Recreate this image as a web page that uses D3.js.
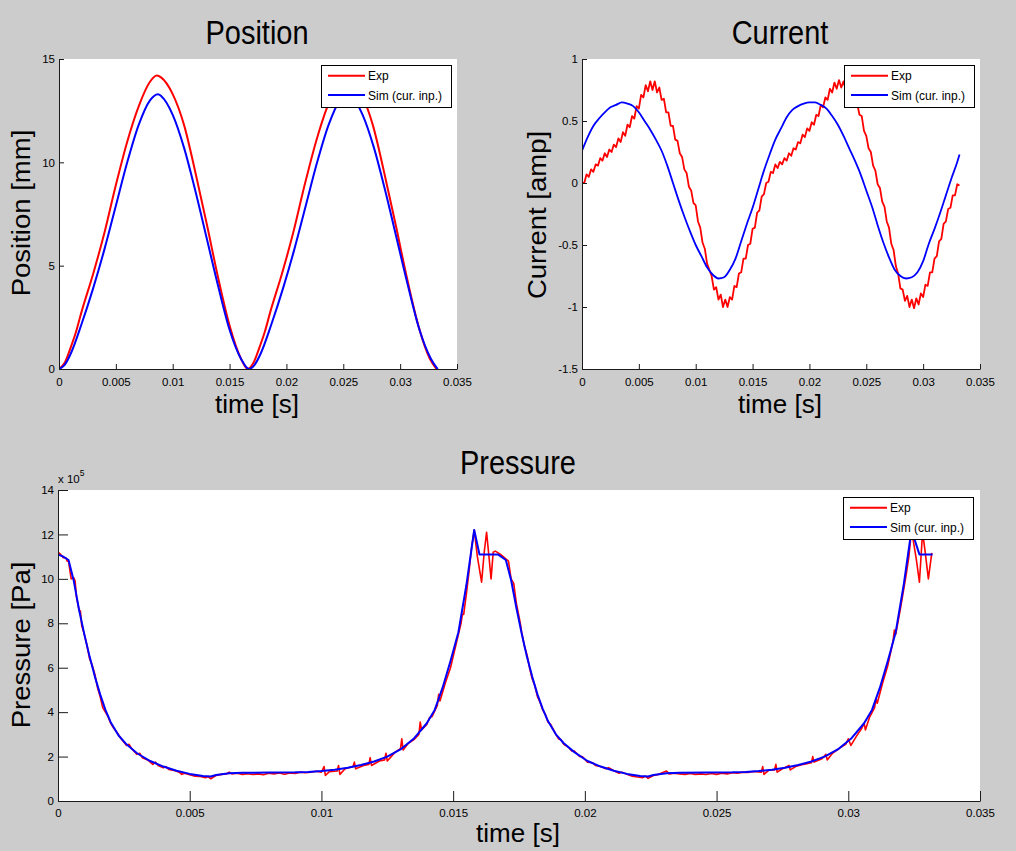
<!DOCTYPE html>
<html><head><meta charset="utf-8">
<script src="https://cdn.jsdelivr.net/npm/d3@7"></script>
<style>body{margin:0;background:#cccccc;} text{font-family:"Liberation Sans",Arial,sans-serif;fill:#000;}</style>
</head><body>
<script>
// ---------------- DATA ----------------
const timeTicks = [0,0.005,0.01,0.015,0.02,0.025,0.03,0.035];
const timeTickLabels = ["0","0.005","0.01","0.015","0.02","0.025","0.03","0.035"];
const posTicks = [0,5,10,15];
const posTickLabels = ["0","5","10","15"];
const curTicks = [-1.5,-1,-0.5,0,0.5,1];
const curTickLabels = ["-1.5","-1","-0.5","0","0.5","1"];
const presTicks = [0,2,4,6,8,10,12,14];
const presTickLabels = ["0","2","4","6","8","10","12","14"];
const seriesNames = ["Exp","Sim (cur. inp.)"];

// Position [mm] vs time [s]
const posExp = [[0,0],[0.0005,0.3],[0.001,1.0],[0.0015,1.8],[0.002,2.8],[0.003,4.6],[0.004,6.6],[0.005,8.9],[0.006,11.0],[0.007,12.7],[0.008,13.9],[0.0086,14.2],[0.009,14.1],[0.010,13.3],[0.011,11.8],[0.012,9.5],[0.013,7.0],[0.014,4.4],[0.015,2.1],[0.016,0.5],[0.0166,0],
 [0.0171,0.3],[0.0176,1.0],[0.0181,1.8],[0.0186,2.8],[0.0196,4.6],[0.0206,6.6],[0.0216,8.9],[0.0226,11.0],[0.0236,12.7],[0.0246,13.9],[0.0252,14.2],[0.0256,14.1],[0.0266,13.3],[0.0276,11.8],[0.0286,9.5],[0.0296,7.0],[0.0306,4.4],[0.0316,2.1],[0.0326,0.5],[0.0332,0]];
const posSim = [[0,0],[0.0005,0.2],[0.001,0.7],[0.002,2.2],[0.003,3.9],[0.004,5.8],[0.005,7.9],[0.006,10.0],[0.007,11.8],[0.008,13.0],[0.0087,13.3],[0.009,13.2],[0.010,12.3],[0.011,10.7],[0.012,8.6],[0.013,6.3],[0.014,4.0],[0.015,1.9],[0.016,0.5],[0.0167,0],
 [0.0172,0.2],[0.0177,0.7],[0.0187,2.2],[0.0197,3.9],[0.0207,5.8],[0.0217,7.9],[0.0227,10.0],[0.0237,11.8],[0.0247,13.0],[0.0254,13.3],[0.0257,13.2],[0.0267,12.3],[0.0277,10.7],[0.0287,8.6],[0.0297,6.3],[0.0307,4.0],[0.0317,1.9],[0.0327,0.5],[0.0333,0]];

// Current [amp] vs time [s]
const curExp = [[0,0.00],[0.0002,0.00],[0.0004,0.07],[0.0006,0.05],[0.0008,0.11],[0.0010,0.09],[0.0012,0.15],[0.0014,0.14],[0.0016,0.20],[0.0018,0.18],
 [0.0020,0.24],[0.0022,0.21],[0.0024,0.27],[0.0026,0.25],[0.0028,0.31],[0.0030,0.29],[0.0032,0.36],[0.0034,0.33],[0.0036,0.41],[0.0038,0.38],
 [0.0040,0.47],[0.0042,0.45],[0.0044,0.54],[0.0046,0.52],[0.0048,0.62],[0.0050,0.60],[0.0052,0.71],[0.0054,0.69],[0.0056,0.79],[0.0058,0.74],
 [0.0060,0.82],[0.0062,0.75],[0.0064,0.82],[0.0066,0.73],[0.0068,0.77],[0.0070,0.67],[0.0072,0.68],[0.0074,0.57],[0.0076,0.57],[0.0078,0.46],
 [0.0080,0.46],[0.0082,0.35],[0.0084,0.34],[0.0086,0.24],[0.0088,0.21],[0.0090,0.11],[0.0092,0.08],[0.0094,-0.03],[0.0096,-0.06],[0.0098,-0.16],
 [0.0100,-0.18],[0.0102,-0.31],[0.0104,-0.36],[0.0106,-0.48],[0.0108,-0.53],[0.0110,-0.65],[0.0112,-0.70],[0.0114,-0.75],[0.0116,-0.86],[0.0118,-0.84],
 [0.0120,-0.94],[0.0122,-0.90],[0.0124,-1.00],[0.0126,-0.94],[0.0128,-1.00],[0.0130,-0.92],[0.0132,-0.94],[0.0134,-0.83],[0.0136,-0.84],[0.0138,-0.73],
 [0.0140,-0.72],[0.0142,-0.61],[0.0144,-0.61],[0.0146,-0.50],[0.0148,-0.49],[0.0150,-0.37],[0.0152,-0.36],[0.0154,-0.24],[0.0156,-0.22],[0.0158,-0.11],
 [0.0160,-0.09],[0.0162,0.00],[0.0164,0.01],[0.0166,0.09],[0.0168,0.08],[0.0170,0.15],[0.0172,0.12],[0.0174,0.17],[0.0176,0.15],[0.0178,0.20],
 [0.0180,0.18],[0.0182,0.24],[0.0184,0.22],[0.0186,0.28],[0.0188,0.27],[0.0190,0.33],[0.0192,0.32],[0.0194,0.39],[0.0196,0.37],[0.0198,0.44],
 [0.0200,0.42],[0.0202,0.49],[0.0204,0.47],[0.0206,0.55],[0.0208,0.54],[0.0210,0.63],[0.0212,0.61],[0.0214,0.69],[0.0216,0.67],[0.0218,0.76],
 [0.0220,0.73],[0.0222,0.81],[0.0224,0.76],[0.0226,0.83],[0.0228,0.77],[0.0230,0.82],[0.0232,0.75],[0.0234,0.80],[0.0236,0.71],[0.0238,0.73],
 [0.0240,0.63],[0.0242,0.64],[0.0244,0.55],[0.0246,0.54],[0.0248,0.42],[0.0250,0.38],[0.0252,0.28],[0.0254,0.25],[0.0256,0.14],[0.0258,0.10],
 [0.0260,-0.01],[0.0262,-0.04],[0.0264,-0.15],[0.0266,-0.19],[0.0268,-0.31],[0.0270,-0.36],[0.0272,-0.49],[0.0274,-0.54],[0.0276,-0.67],[0.0278,-0.73],
 [0.0280,-0.85],[0.0282,-0.86],[0.0284,-0.95],[0.0286,-0.91],[0.0288,-1.00],[0.0290,-0.94],[0.0292,-1.01],[0.0294,-0.93],[0.0296,-0.98],[0.0298,-0.89],
 [0.0300,-0.92],[0.0302,-0.82],[0.0304,-0.83],[0.0306,-0.72],[0.0308,-0.72],[0.0310,-0.61],[0.0312,-0.59],[0.0314,-0.47],[0.0316,-0.45],[0.0318,-0.33],
 [0.0320,-0.31],[0.0322,-0.21],[0.0324,-0.20],[0.0326,-0.10],[0.0328,-0.10],[0.0330,-0.01],[0.0332,-0.02]];
const curSim = [[0,0.26],[0.0005,0.37],[0.001,0.46],[0.0015,0.52],[0.002,0.57],[0.0025,0.61],[0.003,0.63],[0.0035,0.65],[0.004,0.64],[0.0045,0.62],
 [0.005,0.57],[0.0055,0.50],[0.006,0.43],[0.0065,0.35],[0.007,0.26],[0.0075,0.14],[0.008,0.00],[0.0085,-0.14],[0.009,-0.27],[0.0095,-0.39],
 [0.010,-0.50],[0.0105,-0.59],[0.011,-0.68],[0.0115,-0.74],[0.012,-0.77],[0.0125,-0.76],[0.013,-0.70],[0.0135,-0.61],[0.014,-0.47],[0.0145,-0.33],
 [0.015,-0.20],[0.0155,-0.05],[0.016,0.10],[0.0165,0.23],[0.017,0.35],[0.0175,0.44],[0.018,0.53],[0.0185,0.59],[0.019,0.62],[0.0195,0.64],
 [0.020,0.65],[0.0205,0.65],[0.021,0.63],[0.0215,0.60],[0.022,0.54],[0.0225,0.47],[0.023,0.38],[0.0235,0.28],[0.024,0.18],[0.0245,0.07],
 [0.025,-0.06],[0.0255,-0.19],[0.026,-0.34],[0.0265,-0.48],[0.027,-0.60],[0.0275,-0.70],[0.028,-0.75],[0.0285,-0.77],[0.029,-0.76],[0.0295,-0.72],
 [0.030,-0.63],[0.0305,-0.49],[0.031,-0.37],[0.0315,-0.24],[0.032,-0.10],[0.0325,0.04],[0.033,0.17],[0.0332,0.23]];

// Pressure [x1e5 Pa] vs time [s]
const presExp = [[0,11.2],[0.0001,11.1],[0.0002,10.95],[0.0003,10.95],[0.00035,10.8],[0.0004,10.8],[0.0005,10.0],[0.0006,10.05],[0.00065,9.9],[0.0007,9.2],
 [0.0008,8.6],[0.00085,8.55],[0.0009,7.9],[0.001,7.5],[0.0011,7.0],[0.0012,6.4],[0.0013,6.1],[0.0014,5.7],[0.0015,5.1],[0.0016,4.7],
 [0.0017,4.2],[0.0018,4.0],[0.0019,3.8],[0.002,3.5],[0.0021,3.3],[0.0022,3.15],[0.0024,2.8],[0.0026,2.5],[0.0027,2.55],[0.0028,2.35],
 [0.003,2.1],[0.0031,2.15],[0.0032,1.95],[0.0034,1.85],[0.0036,1.65],[0.0037,1.75],[0.0038,1.6],[0.004,1.5],[0.0041,1.55],[0.0042,1.42],
 [0.0044,1.38],[0.0046,1.3],[0.0047,1.2],[0.0048,1.25],[0.005,1.18],[0.0052,1.12],[0.0054,1.1],[0.0056,1.05],[0.0057,1.1],[0.0058,1.0],
 [0.0059,1.08],[0.006,1.15],[0.0062,1.2],[0.0064,1.22],[0.0065,1.3],[0.0066,1.22],[0.0068,1.25],[0.007,1.2],[0.0072,1.23],[0.0074,1.19],
 [0.0076,1.22],[0.0078,1.18],[0.008,1.25],[0.0082,1.22],[0.0084,1.26],[0.0086,1.2],[0.0088,1.26],[0.009,1.24],[0.0092,1.3],[0.0094,1.27],
 [0.0096,1.3],[0.0098,1.34],[0.0100,1.3],[0.0101,1.55],[0.01015,1.15],[0.0103,1.32],[0.0106,1.35],[0.01065,1.6],[0.0107,1.2],[0.0109,1.45],
 [0.0112,1.55],[0.01125,1.75],[0.0113,1.45],[0.0116,1.6],[0.0118,1.65],[0.01185,1.95],[0.0119,1.6],[0.0122,1.8],[0.0124,1.85],[0.01245,2.15],
 [0.0125,1.8],[0.0128,2.2],[0.013,2.35],[0.01305,2.8],[0.0131,2.3],[0.0133,2.6],[0.0135,2.75],[0.0137,3.0],[0.01375,3.55],[0.0138,3.2],
 [0.014,3.45],[0.0141,3.75],[0.0142,3.8],[0.0144,4.3],[0.01445,4.8],[0.0145,4.5],[0.0147,5.3],[0.0149,6.0],[0.015,6.5],[0.0151,7.0],
 [0.0152,7.5],[0.0153,8.0],[0.01535,8.4],[0.0154,8.4],[0.0155,9.3],[0.0156,10.3],[0.0157,11.4],[0.0158,12.2],[0.01592,11.0],[0.01608,9.85],
 [0.01618,11.2],[0.01627,12.1],[0.01636,11.0],[0.01644,10.0],[0.01652,11.2],[0.0166,11.25],[0.0168,11.1],[0.0169,11.0],[0.017,10.9],[0.0171,10.8],
 [0.0172,10.0],[0.0173,9.8],[0.0174,8.9],[0.0175,8.3],[0.01755,8.0],[0.0176,7.6],[0.0177,7.0],[0.0178,6.6],[0.0179,6.0],[0.018,5.5],
 [0.0181,5.2],[0.0182,4.7],[0.0183,4.45],[0.0184,4.1],[0.0185,3.9],[0.0186,3.55],[0.0187,3.45],[0.0189,3.0],[0.019,2.8],[0.0191,2.75],
 [0.0192,2.55],[0.0194,2.4],[0.0195,2.25],[0.0196,2.25],[0.0198,2.0],[0.0199,2.0],[0.0201,1.75],[0.0203,1.72],[0.0204,1.6],[0.0206,1.55],
 [0.0208,1.45],[0.0209,1.5],[0.0211,1.36],[0.0213,1.25],[0.0214,1.3],[0.0216,1.2],[0.0218,1.12],[0.022,1.08],[0.0222,1.05],[0.0223,1.12],
 [0.0224,1.02],[0.0226,1.15],[0.0228,1.2],[0.0231,1.35],[0.0232,1.22],[0.0234,1.25],[0.0236,1.22],[0.0238,1.2],[0.024,1.24],[0.0242,1.2],
 [0.0244,1.22],[0.0246,1.19],[0.0248,1.24],[0.025,1.2],[0.0252,1.25],[0.0254,1.22],[0.0256,1.27],[0.0258,1.25],[0.026,1.3],[0.0262,1.28],
 [0.0264,1.33],[0.0267,1.3],[0.02675,1.55],[0.0268,1.2],[0.027,1.4],[0.0272,1.4],[0.02725,1.65],[0.0273,1.3],[0.0275,1.45],[0.02775,1.6],
 [0.0278,1.4],[0.028,1.55],[0.0283,1.65],[0.0286,1.72],[0.02865,2.0],[0.0287,1.75],[0.029,1.9],[0.02915,2.1],[0.0292,1.85],[0.0294,2.15],
 [0.0297,2.4],[0.0299,2.55],[0.03,2.8],[0.0301,2.5],[0.0303,2.9],[0.0305,3.25],[0.0306,3.5],[0.03065,3.2],[0.0308,3.75],[0.031,4.2],
 [0.03105,4.6],[0.0311,4.4],[0.0313,5.3],[0.0315,6.1],[0.0317,7.2],[0.03175,7.7],[0.0318,7.5],[0.032,8.8],[0.0322,10.2],[0.0323,11.0],
 [0.0324,12.2],[0.03258,10.9],[0.0327,9.85],[0.03282,12.1],[0.03292,11.2],[0.03304,10.0],[0.03317,11.17]];
const presSim = [[0,11.1],[0.0002,11.0],[0.0004,10.85],[0.0006,9.9],[0.0008,8.6],[0.001,7.5],[0.0012,6.5],[0.0014,5.6],[0.0016,4.8],[0.0018,4.1],
 [0.002,3.55],[0.0023,2.95],[0.0026,2.55],[0.003,2.15],[0.0035,1.8],[0.004,1.55],[0.0045,1.36],[0.005,1.22],[0.0055,1.13],[0.0058,1.1],
 [0.006,1.17],[0.0065,1.25],[0.007,1.27],[0.008,1.28],[0.009,1.29],[0.0095,1.31],[0.010,1.35],[0.0105,1.41],[0.011,1.5],[0.0115,1.62],
 [0.012,1.78],[0.0125,2.0],[0.013,2.32],[0.0135,2.8],[0.014,3.5],[0.0143,4.1],[0.0146,5.1],[0.0149,6.3],[0.0152,7.6],[0.0155,9.7],
 [0.0158,12.2],[0.0160,11.1],[0.0167,11.1],[0.0170,10.85],[0.0172,9.95],[0.0174,8.7],[0.0176,7.55],[0.0178,6.5],[0.018,5.6],[0.0182,4.8],
 [0.0184,4.15],[0.0186,3.6],[0.0189,3.0],[0.0192,2.6],[0.0196,2.2],[0.0201,1.8],[0.0206,1.55],[0.0211,1.36],[0.0216,1.22],[0.0221,1.13],
 [0.0224,1.1],[0.0226,1.17],[0.0231,1.25],[0.0236,1.27],[0.0246,1.28],[0.0256,1.29],[0.0261,1.31],[0.0266,1.35],[0.0271,1.41],[0.0276,1.5],
 [0.0281,1.62],[0.0286,1.78],[0.0291,2.0],[0.0296,2.32],[0.0301,2.8],[0.0306,3.5],[0.0309,4.1],[0.0312,5.1],[0.0315,6.3],[0.0318,7.6],
 [0.0321,9.7],[0.0324,12.2],[0.0327,11.1],[0.0332,11.1]];

// ---------------- DRAW ----------------
const W = 1016, H = 851;
const svg = d3.select("body").append("svg").attr("width", W).attr("height", H);
svg.append("rect").attr("width", W).attr("height", H).attr("fill", "#cccccc");

const RED = "#ff0000", BLUE = "#0000ff";

function panel(cfg) {
  const x = d3.scaleLinear().domain([0, 0.035]).range([cfg.left, cfg.right]);
  const y = d3.scaleLinear().domain(cfg.yDomain).range([cfg.bottom, cfg.top]);
  const g = svg.append("g");
  g.append("rect").attr("x", cfg.left).attr("y", cfg.top)
    .attr("width", cfg.right - cfg.left).attr("height", cfg.bottom - cfg.top).attr("fill", "#fff");
  const clipId = "clip" + cfg.id;
  svg.append("clipPath").attr("id", clipId).append("rect")
    .attr("x", cfg.left).attr("y", cfg.top - 1).attr("width", cfg.right - cfg.left + 1).attr("height", cfg.bottom - cfg.top + 1);

  const lines = g.append("g").attr("clip-path", `url(#${clipId})`);
  cfg.series.forEach(s => {
    lines.append("path").datum(s.data)
      .attr("fill", "none").attr("stroke", s.color).attr("stroke-width", s.width)
      .attr("stroke-linejoin", "round")
      .attr("d", d3.line().x(d => x(d[0])).y(d => y(d[1])).curve(s.curve)(s.data));
  });

  // axes
  const xa = d3.axisBottom(x).tickValues(timeTicks).tickFormat((d, i) => timeTickLabels[i])
    .tickSizeInner(-cfg.tick).tickSizeOuter(0).tickPadding(cfg.xPad);
  const ya = d3.axisLeft(y).tickValues(cfg.yTicks).tickFormat((d, i) => cfg.yTickLabels[i])
    .tickSizeInner(-cfg.tick).tickSizeOuter(0).tickPadding(4);
  const gx = g.append("g").attr("transform", `translate(0,${cfg.bottom})`).call(xa);
  const gy = g.append("g").attr("transform", `translate(${cfg.left},0)`).call(ya);
  [gx, gy].forEach(a => {
    a.selectAll("path,line").attr("stroke", "#1a1a1a").attr("stroke-width", 1);
    a.selectAll("text").attr("font-size", "11.5px").attr("fill", "#111")
      .style("font-family", '"Liberation Sans", Arial, sans-serif');
  });

  // title
  svg.append("text").attr("transform", `translate(${cfg.titleX},${cfg.titleY}) scale(1,1.12)`)
    .attr("text-anchor", "middle").attr("font-size", "29px").text(cfg.title);
  // x label
  svg.append("text").attr("x", cfg.xLabelX).attr("y", cfg.xLabelY)
    .attr("text-anchor", "middle").attr("font-size", "26px").text("time [s]");
  // y label
  svg.append("text").attr("transform", `translate(${cfg.yLabelX},${cfg.yLabelY}) rotate(-90) scale(1.08,1)`)
    .attr("text-anchor", "middle").attr("font-size", "25.5px").text(cfg.yLabel);

  // legend
  const L = svg.append("g").attr("transform", `translate(${cfg.legX},${cfg.legY})`);
  L.append("rect").attr("x", 0.5).attr("y", 0.5).attr("width", 130).attr("height", 42)
    .attr("fill", "#fff").attr("stroke", "#000").attr("stroke-width", 1);
  [RED, BLUE].forEach((c, i) => {
    const ly = 10.7 + i * 19.3;
    L.append("line").attr("x1", 7).attr("x2", 44).attr("y1", ly).attr("y2", ly)
      .attr("stroke", c).attr("stroke-width", 2);
    L.append("text").attr("x", 47).attr("y", ly + 4.6).attr("font-size", "12px").text(seriesNames[i]);
  });
  return {x, y};
}

panel({id: "pos", left: 59, right: 457, top: 59, bottom: 369, yDomain: [0, 15],
  yTicks: posTicks, yTickLabels: posTickLabels, tick: 5, xPad: 9,
  title: "Position", titleX: 257, titleY: 44, xLabelX: 257, xLabelY: 413,
  yLabel: "Position [mm]", yLabelX: 30, yLabelY: 213, legX: 321, legY: 65,
  series: [
    {data: posExp, color: RED, width: 2, curve: d3.curveMonotoneX},
    {data: posSim, color: BLUE, width: 2, curve: d3.curveMonotoneX}]});

panel({id: "cur", left: 582, right: 980, top: 59, bottom: 369, yDomain: [-1.5, 1],
  yTicks: curTicks, yTickLabels: curTickLabels, tick: 5, xPad: 9,
  title: "Current", titleX: 780, titleY: 44, xLabelX: 780, xLabelY: 413,
  yLabel: "Current [amp]", yLabelX: 546, yLabelY: 215, legX: 844, legY: 65,
  series: [
    {data: curExp, color: RED, width: 1.8, curve: d3.curveLinear},
    {data: curSim, color: BLUE, width: 1.8, curve: d3.curveMonotoneX}]});

panel({id: "pres", left: 58, right: 980, top: 490, bottom: 801, yDomain: [0, 14],
  yTicks: presTicks, yTickLabels: presTickLabels, tick: 10, xPad: 8,
  title: "Pressure", titleX: 518, titleY: 474, xLabelX: 518, xLabelY: 842,
  yLabel: "Pressure [Pa]", yLabelX: 30, yLabelY: 645, legX: 843, legY: 497,
  series: [
    {data: presExp, color: RED, width: 1.6, curve: d3.curveLinear},
    {data: presSim, color: BLUE, width: 2, curve: d3.curveLinear}]});

// exponent label
const ex = svg.append("text").attr("x", 58).attr("y", 483).attr("font-size", "11.5px");
ex.append("tspan").text("x 10");
ex.append("tspan").attr("dy", -7).attr("font-size", "8.5px").text("5");
</script>
</body></html>
